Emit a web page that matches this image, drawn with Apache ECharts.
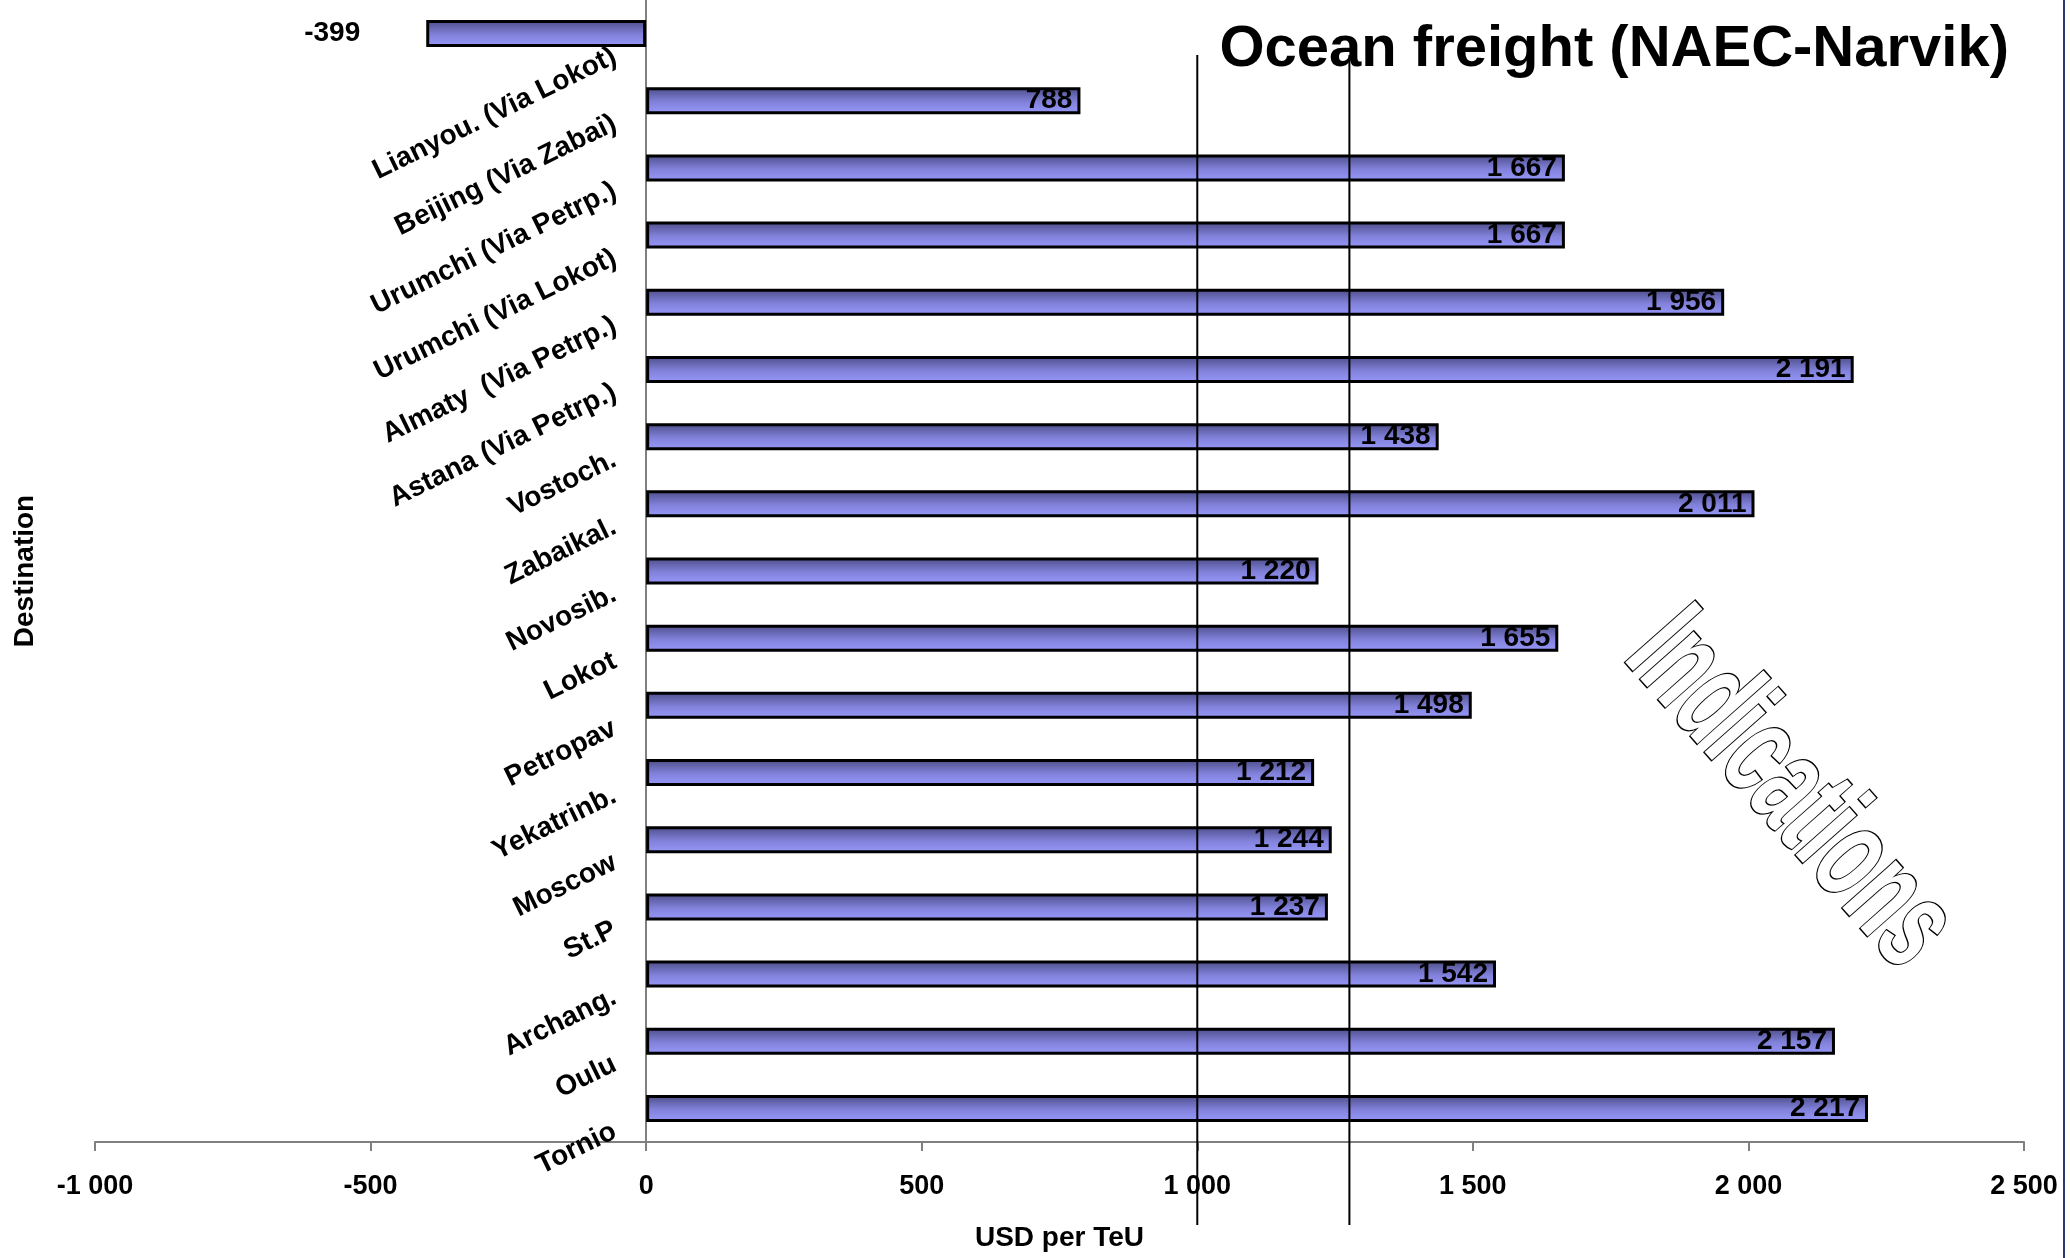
<!DOCTYPE html>
<html lang="en">
<head>
  <meta charset="UTF-8">
  <script src="https://cdn.jsdelivr.net/npm/echarts@6/dist/echarts.min.js"></script>
  <style>
    html,body{margin:0;padding:0;background:#fff;}
  </style>
</head>
<body>
<div id="main" style="width:2070px;height:1258px;"></div>

<script>
  // destinations, bottom to top as drawn
  var destinations = ['Tornio', 'Oulu', 'Archang.', 'St.P', 'Moscow', 'Yekatrinb.', 'Petropav', 'Lokot',
    'Novosib.', 'Zabaikal.', 'Vostoch.', 'Astana (Via Petrp.)', 'Almaty  (Via Petrp.)',
    'Urumchi (Via Lokot)', 'Urumchi (Via Petrp.)', 'Beijing (Via Zabai)', 'Lianyou. (Via Lokot)'];
  var freight = [2217, 2157, 1542, 1237, 1244, 1212, 1498, 1655, 1220, 2011, 1438, 2191, 1956, 1667, 1667, 788, -399];
  var refLines = [1000, 1276];
  var axisMin = -1000, axisMax = 2500, axisStep = 500;

  function fmt(v){
    var s = String(Math.abs(v)).replace(/\B(?=(\d{3})+(?!\d))/g, ' ');
    return (v < 0 ? '-' : '') + s;
  }

  var font = 'Liberation Sans, Arial, sans-serif';
  var gridLeft = 95;
  var main = echarts.init(document.querySelector('#main'));

  var barData = [];
  for (var i = 0; i < freight.length; i++){
    if (freight[i] < 0){
      barData.push({value:freight[i], label:{position:'left', distance:66}});
    } else {
      barData.push(freight[i]);
    }
  }

  main.setOption({
    animation:false,
    backgroundColor:'#fff',
    title:{
      text:'Ocean freight (NAEC-Narvik)',
      right:56, top:16,
      textStyle:{fontFamily:font, fontSize:58, fontWeight:'bold', color:'#000'}
    },
    grid:{left:gridLeft, right:46, top:0, bottom:116, containLabel:false, outerBoundsMode:'none'},
    xAxis:{
      type:'value', min:axisMin, max:axisMax, interval:axisStep,
      name:'USD per TeU', nameLocation:'middle', nameGap:82,
      nameTextStyle:{fontFamily:font, fontSize:28, fontWeight:'bold', color:'#000'},
      axisLine:{show:true, lineStyle:{color:'#808080', width:2}},
      axisTick:{show:true, length:9, lineStyle:{color:'#808080', width:2}},
      splitLine:{show:false},
      axisLabel:{fontFamily:font, fontSize:27, fontWeight:'bold', color:'#000', margin:31, formatter:fmt}
    },
    yAxis:{
      type:'category', data:destinations,
      name:'Destination', nameLocation:'middle', nameGap:607, nameRotate:90,
      nameTextStyle:{fontFamily:font, fontSize:28, fontWeight:'bold', color:'#000'},
      axisLine:{show:true, onZero:false, lineStyle:{color:'#808080', width:2}},
      axisTick:{show:false},
      axisLabel:{
        interval:0, rotate:26, margin:42,
        verticalAlign:'top', padding:[10,0,0,0],
        fontFamily:font, fontSize:28, fontWeight:'bold', color:'#000'
      }
    },
    series:[{
      type:'bar',
      data:barData,
      barWidth:27,
      itemStyle:{
        borderColor:'#000', borderWidth:3,
        color:new echarts.graphic.LinearGradient(0,0,0,1,[
          {offset:0, color:'#4b4b86'},
          {offset:0.55, color:'#8282dc'},
          {offset:1, color:'#9898fa'}
        ])
      },
      label:{
        show:true, position:'insideRight', distance:8,
        fontFamily:font, fontSize:28, fontWeight:'bold', color:'#000',
        textBorderWidth:0,
        formatter:function(p){ return fmt(p.value); }
      }
    }]
  });

  // move the category axis onto the value 0 of the x axis
  var zeroX = main.convertToPixel({xAxisIndex:0}, 0);
  main.setOption({yAxis:{offset:-(zeroX - gridLeft)}});

  // annotation lines placed through the value axis
  var graphics = [];
  for (var j = 0; j < refLines.length; j++){
    var px = main.convertToPixel({xAxisIndex:0}, refLines[j]);
    graphics.push({
      type:'line', z:10,
      shape:{x1:px, y1:55, x2:px, y2:1225},
      style:{stroke:'#000', lineWidth:2}
    });
  }
  graphics.push({
    type:'text', z:10,
    x:1789, y:791,
    rotation:-48.5 * Math.PI / 180,
    scaleX:0.59,
    style:{
      text:'Indications', font:'bold 135px Liberation Sans, Arial, sans-serif',
      fill:'#fff', stroke:'#000', lineWidth:3,
      align:'center', verticalAlign:'middle'
    }
  });
  graphics.push({
    type:'line', z:10,
    shape:{x1:2064, y1:0, x2:2064, y2:1258},
    style:{stroke:'#2a3a6a', lineWidth:2}
  });
  main.setOption({graphic:graphics});
</script>
</body>
</html>
